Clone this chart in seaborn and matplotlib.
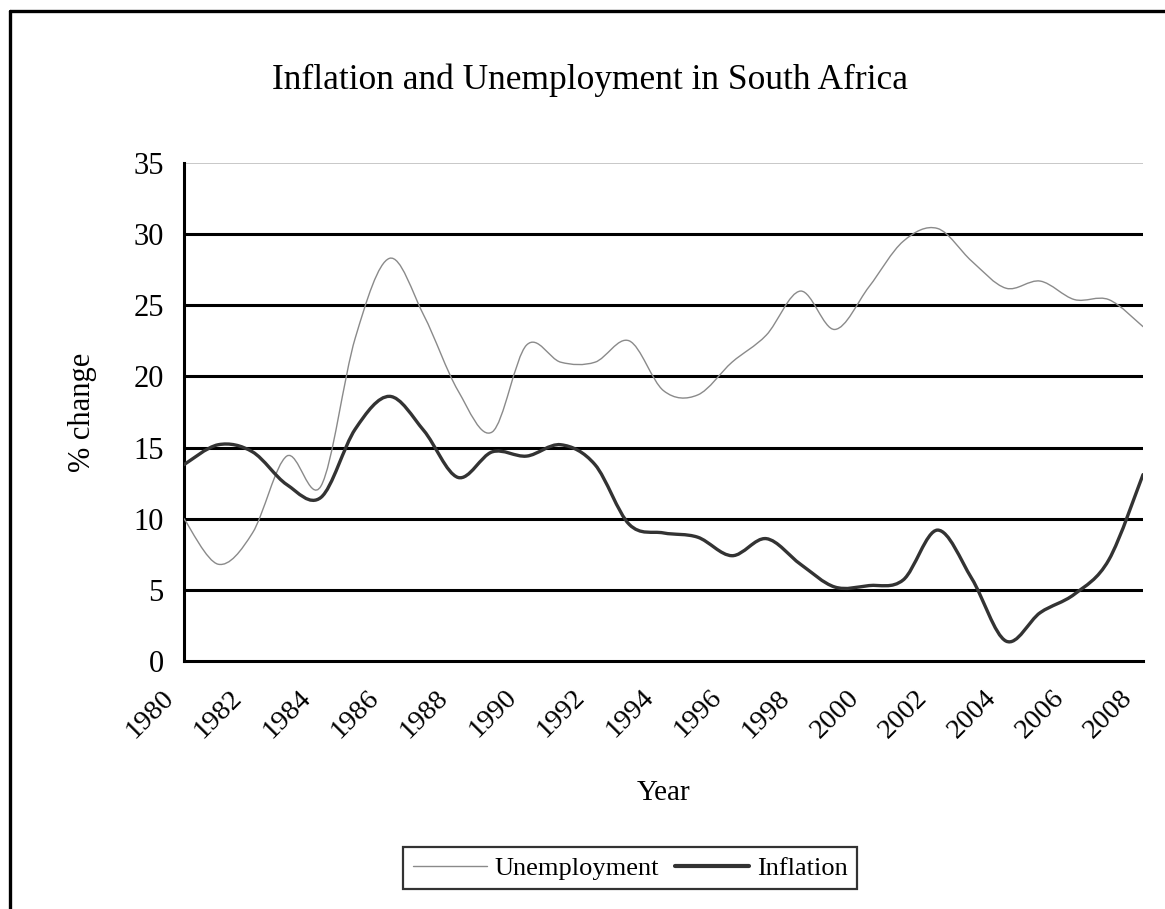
import numpy as np
import matplotlib
matplotlib.use("Agg")
import matplotlib.pyplot as plt
import matplotlib.transforms as mtransforms
from matplotlib.path import Path
from matplotlib.patches import PathPatch
from matplotlib.lines import Line2D
import seaborn as sns

# values
years = list(range(1980, 2009))
unemployment = [10.0, 6.8, 9.0, 14.4, 12.3, 22.7, 28.3, 24.3, 19.0, 16.1,
                22.2, 21.0, 21.0, 22.5, 19.0, 18.7, 21.0, 22.9, 26.0, 23.3,
                26.3, 29.5, 30.4, 28.1, 26.2, 26.7, 25.4, 25.4, 23.5]
inflation = [13.8, 15.2, 14.7, 12.4, 11.5, 16.3, 18.6, 16.2, 12.9, 14.7,
             14.4, 15.2, 13.8, 9.6, 9.0, 8.7, 7.4, 8.6, 6.8, 5.2,
             5.3, 5.7, 9.2, 5.8, 1.4, 3.4, 4.7, 7.1, 13.1]
series_names = ["Unemployment", "Inflation"]
yticks = [0, 5, 10, 15, 20, 25, 30, 35]

sns.set_theme(style="white")
plt.rcParams["font.family"] = ["Liberation Serif", "DejaVu Serif"]
plt.rcParams["text.color"] = "black"
plt.rcParams["axes.labelcolor"] = "black"
plt.rcParams["xtick.color"] = "black"
plt.rcParams["ytick.color"] = "black"


def smooth_path(xs, ys):
    # excel style smoothed line: catmull-rom segments as cubic beziers
    pts = np.column_stack([xs, ys]).astype(float)
    n = len(pts)
    verts = [pts[0]]
    codes = [Path.MOVETO]
    for i in range(n - 1):
        p0 = pts[max(i - 1, 0)]
        p1 = pts[i]
        p2 = pts[i + 1]
        p3 = pts[min(i + 2, n - 1)]
        c1 = p1 + (p2 - p0) / 6.0
        c2 = p2 - (p3 - p1) / 6.0
        verts += [c1, c2, p2]
        codes += [Path.CURVE4] * 3
    return Path(verts, codes)


fig = plt.figure(figsize=(11.65, 9.09), dpi=100)
ax = fig.add_axes([184 / 1165, 1 - 661 / 909, 959 / 1165, 498 / 909])

styles = {
    "Unemployment": dict(color="#8a8a8a", lw=1.0),
    "Inflation": dict(color="#333333", lw=2.4),
}

# gridlines
for v in yticks[1:]:
    if v == 35:
        ax.axhline(v, color="#c8c8c8", lw=1.4, zorder=1)
    else:
        ax.axhline(v, color="black", lw=2.2, zorder=1)

for name, vals in zip(series_names, [unemployment, inflation]):
    st = styles[name]
    patch = PathPatch(smooth_path(years, vals), facecolor="none",
                      edgecolor=st["color"], lw=st["lw"], zorder=3,
                      capstyle="round", joinstyle="round")
    ax.add_patch(patch)

ax.set_xlim(years[0], years[-1])
ax.set_ylim(0, 35)
ax.set_yticks(yticks)
ax.set_yticklabels([str(v) for v in yticks])
ax.set_xticks(years)
ax.set_xticklabels([str(y) if y % 2 == 0 else "" for y in years])

for side in ["top", "right"]:
    ax.spines[side].set_visible(False)
for side in ["left", "bottom"]:
    ax.spines[side].set_color("black")
    ax.spines[side].set_linewidth(2.2)

ax.tick_params(axis="both", which="major", direction="out", length=6.5,
               width=2.2, color="black")
ax.tick_params(axis="y", pad=8, labelsize=22)
ax.tick_params(axis="x", pad=20, labelsize=20.5)

for lab in ax.get_xticklabels():
    lab.set_rotation(45)
    lab.set_ha("right")
    lab.set_va("center")
    lab.set_rotation_mode("anchor")
    lab.set_transform(lab.get_transform() +
                      mtransforms.ScaledTranslation(-14 / 100, 0.04, fig.dpi_scale_trans))

ax.set_ylabel("% change", fontsize=22)
ax.yaxis.set_label_coords(-0.091, 0.5)
ax.set_xlabel("Year", fontsize=21)
ax.xaxis.set_label_coords(0.5, -0.239)

fig.text(590 / 1165, 1 - 80 / 909, "Inflation and Unemployment in South Africa",
         fontsize=25.5, ha="center", va="center")

handles = [Line2D([], [], **styles[n]) for n in series_names]
handles[1].set_linewidth(3.0)
leg = fig.legend(handles, series_names, loc="center",
                 bbox_to_anchor=(630 / 1165, 1 - 868 / 909), ncol=2,
                 fontsize=19, frameon=True, fancybox=False, handlelength=2.8,
                 handletextpad=0.3, columnspacing=0.6, borderpad=0.35,
                 borderaxespad=0)
leg.get_frame().set_edgecolor("black")
leg.get_frame().set_linewidth(1.6)

# chart area border (runs off the bottom and right of the picture)
fig.add_artist(Line2D([10 / 1165, 10 / 1165], [1 - 11 / 909, -0.05],
                      transform=fig.transFigure, color="black", lw=2.4))
fig.add_artist(Line2D([10 / 1165, 1.05], [1 - 11 / 909, 1 - 11 / 909],
                      transform=fig.transFigure, color="black", lw=2.4))

fig.savefig("out.png", dpi=100, facecolor="white")
